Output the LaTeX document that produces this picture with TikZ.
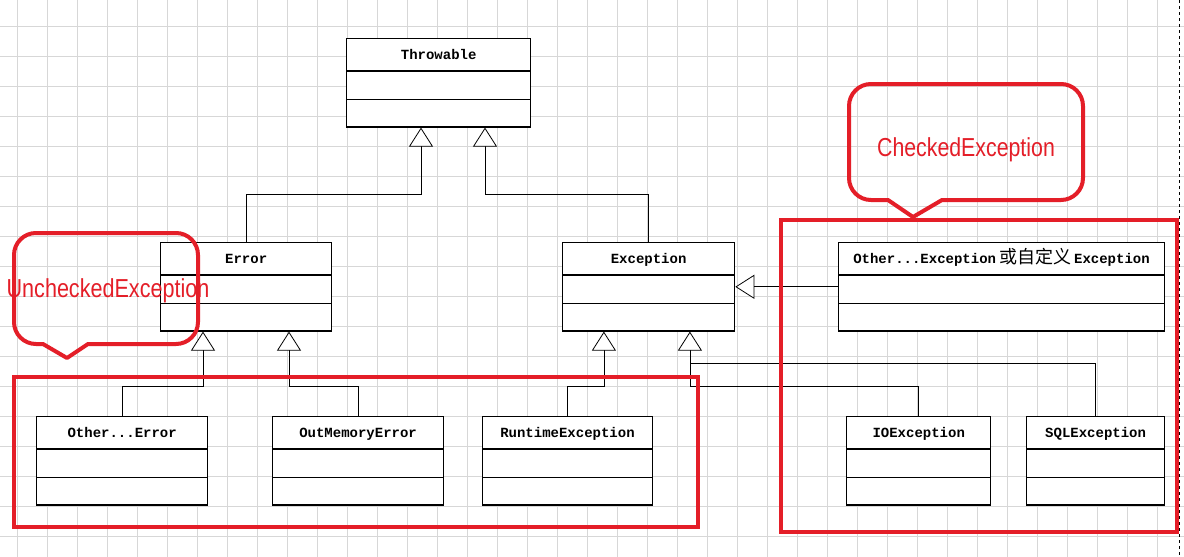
\documentclass[tikz,border=0pt]{standalone}
\usepackage{fontspec}
\setmainfont{Liberation Sans}
\setmonofont{Liberation Mono}
\newfontfamily\cjk{Noto Sans CJK SC}
\usetikzlibrary{positioning}
\usetikzlibrary{arrows.meta}
\usetikzlibrary{shapes.multipart}
\definecolor{markred}{RGB}{228,30,40}
\definecolor{gridgray}{RGB}{215,215,215}
% three compartments of a class box: name, attributes, operations
\newcommand{\classparts}[1]{\rule[-11pt]{0pt}{31pt}#1\nodepart{second}\rule{0pt}{27pt}\nodepart{third}\rule{0pt}{26pt}}
\tikzset{x=1pt, y=1pt, % one unit is one pixel of the screenshot
umlclass/.style={ % a UML class with three parts
rectangle split,
rectangle split parts=3,
draw,
line width=1.4pt,
fill=white,
inner xsep=4pt,
inner ysep=0pt,
font=\ttfamily\bfseries\fontsize{14}{14}\selectfont},
inherit/.style={ % generalisation, hollow triangle
draw,
line width=0.8pt,
-{Triangle[fill=white, length=19pt, width=24pt]}},
gridline/.style={gridgray, line width=0.7pt},
markbox/.style={draw=markred, line width=4pt},
speech/.style={draw=markred, line width=4pt, line join=round},
speech text/.style={text=markred, anchor=base, font=\fontsize{26}{26}\selectfont}}

\begin{document}
\begin{tikzpicture}
				\useasboundingbox[fill=white] (0,0) rectangle (1184,-557);
				\foreach \gx in {17,47,...,1157} \draw[gridline] (\gx,0) -- (\gx,-557);
				\foreach \gy in {26,56,...,536} \draw[gridline] (0,-\gy) -- (1184,-\gy);
				\draw[dashed, line width=1pt] (1179.5,0) -- (1179.5,-557);

				\node[umlclass, minimum width=184pt, anchor=north west] (throwable) at (346,-38) {\classparts{Throwable}};
				\node[umlclass, minimum width=171pt, anchor=north west] (error) at (160,-242) {\classparts{Error}};
				\node[umlclass, minimum width=172pt, right=229.5pt of error] (exc) {\classparts{Exception}};
				\node[umlclass, minimum width=326pt, right=102.5pt of exc] (oexc) {\classparts{Other...Exception{\cjk\mdseries\fontsize{18}{18}\selectfont\,或自定义\,}Exception}};
				\node[umlclass, minimum width=171pt, anchor=north west] (oerr) at (36,-416) {\classparts{Other...Error}};
				\node[umlclass, minimum width=171pt, right=63.5pt of oerr] (oom) {\classparts{OutMemoryError}};
				\node[umlclass, minimum width=170pt, right=37.5pt of oom] (rte) {\classparts{RuntimeException}};
				\node[umlclass, minimum width=144pt, anchor=north west] (ioe) at (846,-416) {\classparts{IOException}};
				\node[umlclass, minimum width=138pt, right=34.5pt of ioe] (sqle) {\classparts{SQLException}};

				\draw[inherit] (error.north) -- ++(0,48) -| ([xshift=75pt]throwable.south west);
				\draw[inherit] (exc.north) -- ++(0,48) -| ([xshift=139pt]throwable.south west);
				\draw[inherit] (oerr.north) -- ++(0,30) -| ([xshift=43pt]error.south west);
				\draw[inherit] (oom.north) -- ++(0,30) -| ([xshift=129pt]error.south west);
				\draw[inherit] (rte.north) -- ++(0,30) -| ([xshift=42pt]exc.south west);
				\draw[inherit] (ioe.north) -- ++(0,30) -| ([xshift=128pt]exc.south west);
				\coordinate (join) at ([xshift=128pt, yshift=-32pt]exc.south west);
				\draw[line width=0.8pt] (sqle.north) |- (join);
				\draw[inherit] (oexc.west) -- (exc.east);

				% red marks
				\draw[markbox] (14,-377) rectangle (698,-527);
				\draw[markbox] (781,-220) rectangle (1177,-532);
				\draw[speech] (14,-255) -- (14,-322) arc[start angle=180, end angle=270, radius=22] -- (43,-344) -- (67,-358) -- (88,-344) -- (176,-344) arc[start angle=270, end angle=360, radius=22] -- (198,-255) arc[start angle=0, end angle=90, radius=22] -- (36,-233) arc[start angle=90, end angle=180, radius=22] -- cycle;
				\draw[speech] (849,-106) -- (849,-178) arc[start angle=180, end angle=270, radius=22] -- (888,-200) -- (913,-217) -- (942,-200) -- (1061,-200) arc[start angle=270, end angle=360, radius=22] -- (1083,-106) arc[start angle=0, end angle=90, radius=22] -- (871,-84) arc[start angle=90, end angle=180, radius=22] -- cycle;
				\node[speech text] (unchecked) at (108,-297) {\scalebox{0.83}[1]{UncheckedException}};
				\node[speech text] (checked) at (966,-156) {\scalebox{0.82}[1]{CheckedException}};
			\end{tikzpicture}
\end{document}
